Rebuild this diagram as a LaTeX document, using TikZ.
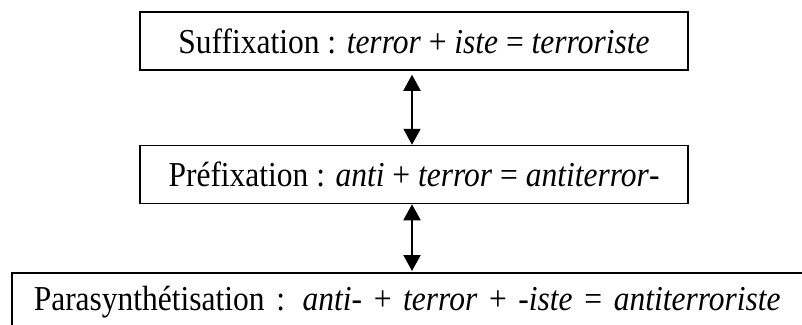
\documentclass[tikz,border=0pt]{standalone}
\usepackage{fontspec}
\setmainfont{Liberation Serif}[FakeStretch=0.9]
\usetikzlibrary{positioning,arrows.meta}
\tikzset{basic/.style={draw,line width=1.5pt,minimum height=58pt,inner sep=0pt,font=\fontsize{35}{40}\selectfont}}
\tikzset{process/.style={basic,minimum width=548pt}}
\tikzset{link/.style={line width=2pt,{Triangle[width=17pt,length=16pt]}-{Triangle[width=17pt,length=16pt]}}}

\begin{document}
\begin{tikzpicture}
        \useasboundingbox (0,0) rectangle (802pt,-324pt);
        \node[process] (suffix) at (414pt,-41pt) {Suffixation : \textit{terror} + \textit{iste} = \textit{terroriste}};
        \node[process,below=74pt of suffix] (prefix) {Préfixation : \textit{anti} + \textit{terror} = \textit{antiterror}-};
        \node[basic,anchor=north west,text width=800pt,align=left,inner xsep=22pt] (parasynth) at (11pt,-272pt)
            {Parasynthétisation : \textit{anti}- + \textit{terror} + -\textit{iste} = \textit{antiterroriste}};
            \path[draw,link] ([xshift=-2pt,yshift=-4pt]suffix.south) -- ([xshift=-2pt]prefix.north);
            \path[draw,link] ([xshift=-2pt]prefix.south) -- ([xshift=-2pt,yshift=1pt]prefix.south |- parasynth.north);
    \end{tikzpicture}
\end{document}
